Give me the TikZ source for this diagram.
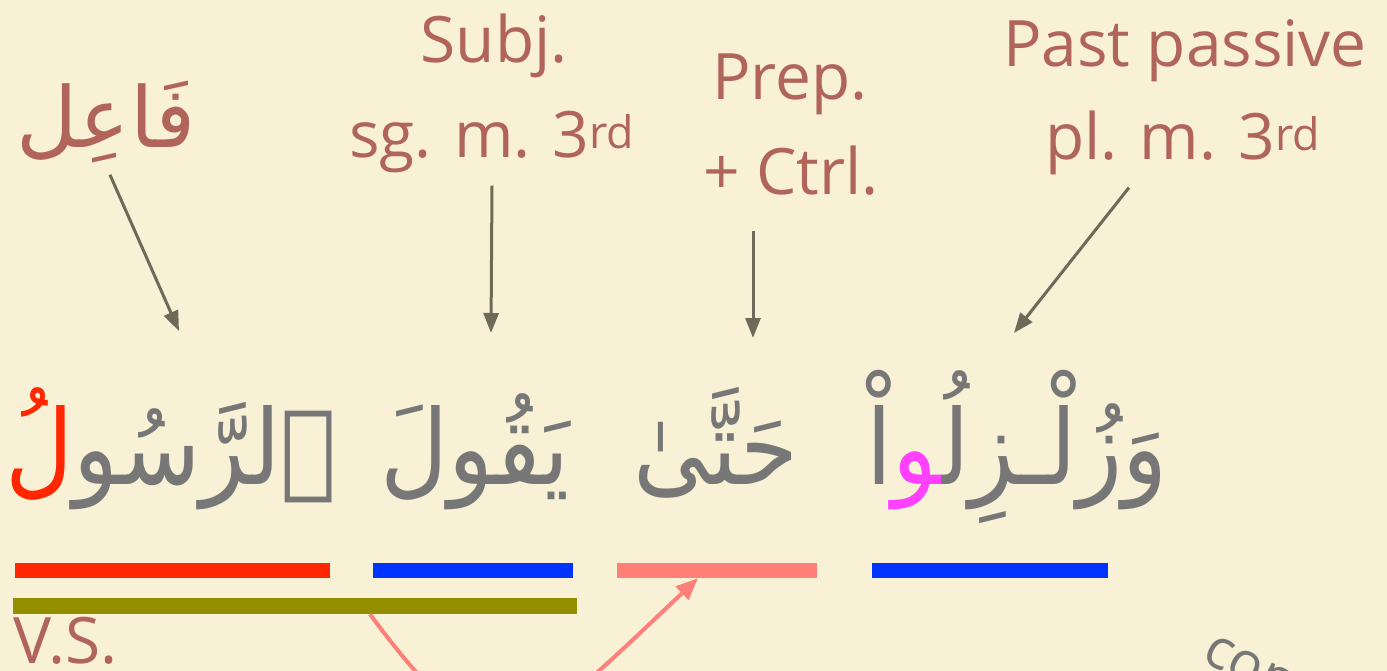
\documentclass[tikz,border=0pt]{standalone}
\usepackage{fontspec}
\usepackage{xcolor}
\usepackage{tikz}
\usetikzlibrary{arrows, arrows.meta, positioning}
\setmainfont{Open Sans}
\newfontfamily\arabicfont[Script=Arabic]{DejaVu Sans}
\newfontfamily\versefont[Script=Arabic, FakeStretch=0.9]{DejaVu Sans}
\TeXXeTstate=1

\definecolor{paper}{HTML}{F9F1D6}
\definecolor{glossbrown}{HTML}{B0645A}
\definecolor{ink}{HTML}{777777}
\definecolor{pointergrey}{HTML}{6D6A59}
\definecolor{rasulred}{HTML}{FF2600}
\definecolor{verbblue}{HTML}{0033FF}
\definecolor{linkpink}{HTML}{FF7F79}
\definecolor{vsolive}{HTML}{948F00}
\definecolor{waumagenta}{HTML}{FF40FF}

\begin{document}
\begin{tikzpicture}[x=1pt,y=-1pt]
  \tikzstyle{gloss}=[text=glossbrown, inner sep=0pt, font=\fontsize{64}{64}\selectfont]
  \tikzstyle{word}=[text=ink, inner sep=0pt, font=\versefont\fontsize{104}{104}\selectfont]
  \tikzstyle{under}=[inner sep=0pt, minimum height=15pt]
  \tikzstyle{pointer}=[draw=pointergrey, line width=3pt, -{Triangle[length=20pt,width=15pt]}]
  \tikzstyle{link}=[draw=linkpink, line width=4pt, -{Triangle[length=22pt,width=18pt]}]

  \useasboundingbox (0,0) rectangle (1387,671);
  \fill[paper] (0,0) rectangle (1387,671);
  \clip (0,0) rectangle (1387,671);

  % glosses
  \node[gloss, font=\arabicfont\fontsize{84}{84}\selectfont] (faail) at (106,122) {\beginR فَاعِل\endR};
  \node[gloss, anchor=base] (subj)   at (494,63)  {Subj.};
  \node[gloss, anchor=base] (subjsg) at (492,158) {sg. m. 3\textsuperscript{rd}};
  \node[gloss, anchor=base] (prep)   at (790,100) {Prep.};
  \node[gloss, anchor=base] (ctrl)   at (791,195) {+ Ctrl.};
  \node[gloss, anchor=base] (past)   at (1185,67) {Past passive};
  \node[gloss, anchor=base] (pastpl) at (1183,160) {pl. m. 3\textsuperscript{rd}};

  % the verse
  \node[word, anchor=base east] (rasul) at (337,484) {\beginR ٱلرَّسُو\endR};
  \node[word, anchor=base east, text=rasulred] (rasullam) at (rasul.base west) {\beginR لُ\endR};
  \node[word, anchor=base] (yaqul) at (475,484) {\beginR يَقُولَ\endR};
  \node[word, anchor=base] (hatta) at (716,484) {\beginR حَتَّىٰ\endR};
  \node[word, anchor=base east] (zulzilu) at (1168,484) {\beginR وَزُلْـزِلُ^^^^200d\endR};
  \node[word, anchor=base east, text=waumagenta] (zulzwaw) at (zulzilu.base west) {\beginR ^^^^200dو\endR};
  \node[word, anchor=base east] (zulzalif) at (zulzwaw.base west) {\beginR اْ\endR};

  % underlines
  \node[under, fill=rasulred, minimum width=315pt] (rasulbar) at (172.5,570.5) {};
  \node[under, fill=verbblue, minimum width=200pt] (yaqulbar) at (473,570.5) {};
  \node[under, fill=linkpink, minimum width=200pt] (hattabar) at (717,570.5) {};
  \node[under, fill=verbblue, minimum width=236pt] (zulzbar)  at (990,570.5) {};
  \node[under, fill=vsolive, minimum width=564pt, minimum height=16pt] (vsbar) at (295,606) {};
  \node[gloss, anchor=base west] (vs) at (13,663) {V.S.};
  \node[gloss, text=ink, font=\fontsize{56}{56}\selectfont, anchor=base west, rotate=-27] (con) at (1200,660) {con};

  % pointers
  \coordinate (faailtip) at (179,331);
  \coordinate (subjtip)  at (491,333);
  \coordinate (preptip)  at (753,338);
  \coordinate (pasttip)  at (1014,333);
  \draw[pointer] ([xshift=4pt,yshift=-12pt]faail.south) -- (faailtip);
  \draw[pointer] ([yshift=-12pt]subjsg.south) -- (subjtip);
  \draw[pointer] ([xshift=-38pt,yshift=-35pt]ctrl.south) -- (preptip);
  \draw[pointer] ([xshift=-54pt,yshift=-12pt]pastpl.south) -- (pasttip);

  \draw[link] ([xshift=75pt]vsbar.south) .. controls (496,785) and (522,744) .. ([xshift=-19pt]hattabar.south);
\end{tikzpicture}
\end{document}
